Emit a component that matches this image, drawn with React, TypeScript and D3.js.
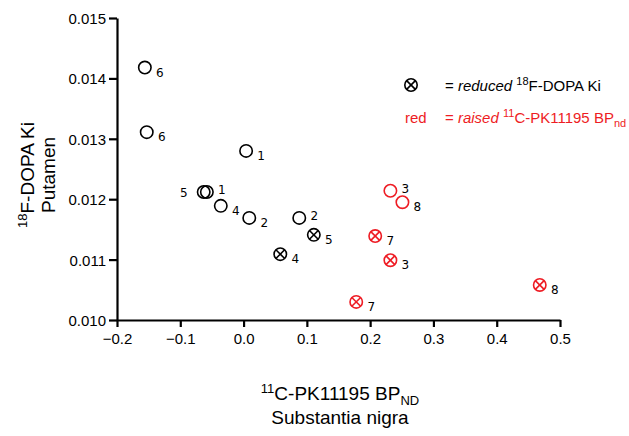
import React, { useEffect, useRef } from "react";
import * as d3 from "d3";

// 11C-PK11195 BPnd (substantia nigra) vs 18F-DOPA Ki (putamen)
const pkValues = [-0.156, -0.153, 0.004, -0.063, -0.058, -0.036, 0.009, 0.088, 0.111, 0.058, 0.232, 0.251, 0.208, 0.232, 0.468, 0.178];
const dopaValues = [0.01418, 0.01311, 0.0128, 0.01212, 0.01212, 0.01189, 0.01169, 0.01169, 0.01141, 0.01109, 0.01214, 0.01195, 0.01139, 0.01099, 0.01058, 0.0103];
const patientIds = ["6", "6", "1", "5", "1", "4", "2", "2", "5", "4", "3", "8", "7", "3", "8", "7"];
const raisedPk = [false, false, false, false, false, false, false, false, false, false, true, true, true, true, true, true];
const reducedDopa = [false, false, false, false, false, false, false, false, true, true, false, false, true, true, true, true];
const labelSide = ["r", "r", "r", "l", "u", "r", "r", "u", "r", "r", "u", "r", "r", "r", "r", "r"];
const xTicks = [-0.2, -0.1, 0.0, 0.1, 0.2, 0.3, 0.4, 0.5];
const yTicks = [0.01, 0.011, 0.012, 0.013, 0.014, 0.015];

const RED = "#ee1c24";
const ARIAL = "'Liberation Sans', Arial, sans-serif";

const App = () => {
  const ref = useRef<SVGSVGElement>(null);

  useEffect(() => {
    const svg = d3.select(ref.current);
    svg.selectAll("*").remove();

    const x = d3.scaleLinear().domain([-0.2, 0.5]).range([117, 560]);
    const y = d3.scaleLinear().domain([0.01, 0.015]).range([320, 18]);

    // axes
    const xAxis = svg
      .append("g")
      .attr("transform", "translate(0,320)")
      .call(d3.axisBottom(x).tickValues(xTicks).tickFormat(d3.format(".1f")).tickSize(7).tickSizeOuter(0));
    const yAxis = svg
      .append("g")
      .attr("transform", "translate(117,0)")
      .call(d3.axisLeft(y).tickValues(yTicks).tickFormat(d3.format(".3f")).tickSize(8).tickSizeOuter(0));
    [xAxis, yAxis].forEach((g) => {
      g.select(".domain").attr("stroke", "#000").attr("stroke-width", 2.2);
      g.selectAll(".tick line").attr("stroke", "#000").attr("stroke-width", 2.2);
      g.selectAll(".tick text").attr("fill", "#000").style("font-family", ARIAL).style("font-size", "15px");
    });
    xAxis.selectAll(".tick text").attr("dy", "0.9em");
    yAxis.selectAll(".tick text").attr("x", -11).attr("dy", "0.36em");

    // points
    const idx = d3.range(pkValues.length);
    const pts = svg
      .append("g")
      .selectAll("g")
      .data(idx)
      .enter()
      .append("g")
      .attr("transform", (i) => `translate(${x(pkValues[i])},${y(dopaValues[i])})`);
    const r = 6.2;
    pts
      .append("circle")
      .attr("r", r)
      .attr("fill", "none")
      .attr("stroke", (i) => (raisedPk[i] ? RED : "#000"))
      .attr("stroke-width", 1.6);
    const k = r * Math.SQRT1_2;
    pts
      .filter((i) => reducedDopa[i])
      .selectAll("line")
      .data((i) => [
        [i, -k, -k, k, k],
        [i, -k, k, k, -k],
      ])
      .enter()
      .append("line")
      .attr("x1", (d) => d[1])
      .attr("y1", (d) => d[2])
      .attr("x2", (d) => d[3])
      .attr("y2", (d) => d[4])
      .attr("stroke", (d) => (raisedPk[d[0]] ? RED : "#000"))
      .attr("stroke-width", 1.6);
    const off: Record<string, [number, number]> = { r: [15, 5], u: [15, -2], l: [-20, 1] };
    pts
      .append("text")
      .attr("x", (i) => off[labelSide[i]][0])
      .attr("y", (i) => off[labelSide[i]][1])
      .attr("text-anchor", "middle")
      .attr("dominant-baseline", "central")
      .style("font-family", "'DejaVu Sans', Verdana, sans-serif")
      .style("font-size", "12px")
      .attr("fill", "#000")
      .text((i) => patientIds[i]);

    // legend
    const leg = svg.append("g").style("font-family", ARIAL).style("font-size", "15px");
    const sym = leg.append("g").attr("transform", "translate(411,85)");
    sym.append("circle").attr("r", 6.2).attr("fill", "none").attr("stroke", "#000").attr("stroke-width", 1.6);
    sym.append("line").attr("x1", -k).attr("y1", -k).attr("x2", k).attr("y2", k).attr("stroke", "#000").attr("stroke-width", 1.6);
    sym.append("line").attr("x1", -k).attr("y1", k).attr("x2", k).attr("y2", -k).attr("stroke", "#000").attr("stroke-width", 1.6);
    const t1 = leg.append("text").attr("x", 445).attr("y", 91).attr("fill", "#000");
    t1.append("tspan").text("= ");
    t1.append("tspan").style("font-style", "italic").text("reduced ");
    t1.append("tspan").attr("dy", -6).style("font-size", "11px").text("18");
    t1.append("tspan").attr("dy", 6).text("F-DOPA Ki");
    leg.append("text").attr("x", 405).attr("y", 123).attr("fill", RED).text("red");
    const t2 = leg.append("text").attr("x", 445).attr("y", 123).attr("fill", RED);
    t2.append("tspan").text("= ");
    t2.append("tspan").style("font-style", "italic").text("raised ");
    t2.append("tspan").attr("dy", -6).style("font-size", "11px").text("11");
    t2.append("tspan").attr("dy", 6).text("C-PK11195 BP");
    t2.append("tspan").attr("dy", 4).style("font-size", "11px").text("nd");

    // axis titles
    const xt = svg.append("g").style("font-family", ARIAL).style("font-size", "19px").attr("fill", "#000");
    const xt1 = xt.append("text").attr("x", 340).attr("y", 400).attr("text-anchor", "middle");
    xt1.append("tspan").attr("dy", -7).style("font-size", "13px").text("11");
    xt1.append("tspan").attr("dy", 7).text("C-PK11195 BP");
    xt1.append("tspan").attr("dy", 5).style("font-size", "13px").text("ND");
    xt.append("text").attr("x", 340).attr("y", 424).attr("text-anchor", "middle").text("Substantia nigra");

    const yt = svg
      .append("g")
      .attr("transform", "translate(0,175) rotate(-90)")
      .style("font-family", ARIAL)
      .style("font-size", "19px")
      .attr("fill", "#000");
    const yt1 = yt.append("text").attr("x", 0).attr("y", 34).attr("text-anchor", "middle");
    yt1.append("tspan").attr("dy", -7).style("font-size", "13px").text("18");
    yt1.append("tspan").attr("dy", 7).text("F-DOPA Ki");
    yt.append("text").attr("x", 0).attr("y", 55).attr("text-anchor", "middle").text("Putamen");
  });

  return (
    <div style={{ position: "absolute", left: 0, top: 0 }}>
      <svg ref={ref} width={629} height={436} style={{ display: "block", background: "#fff" }}></svg>
    </div>
  );
};

export default App;
